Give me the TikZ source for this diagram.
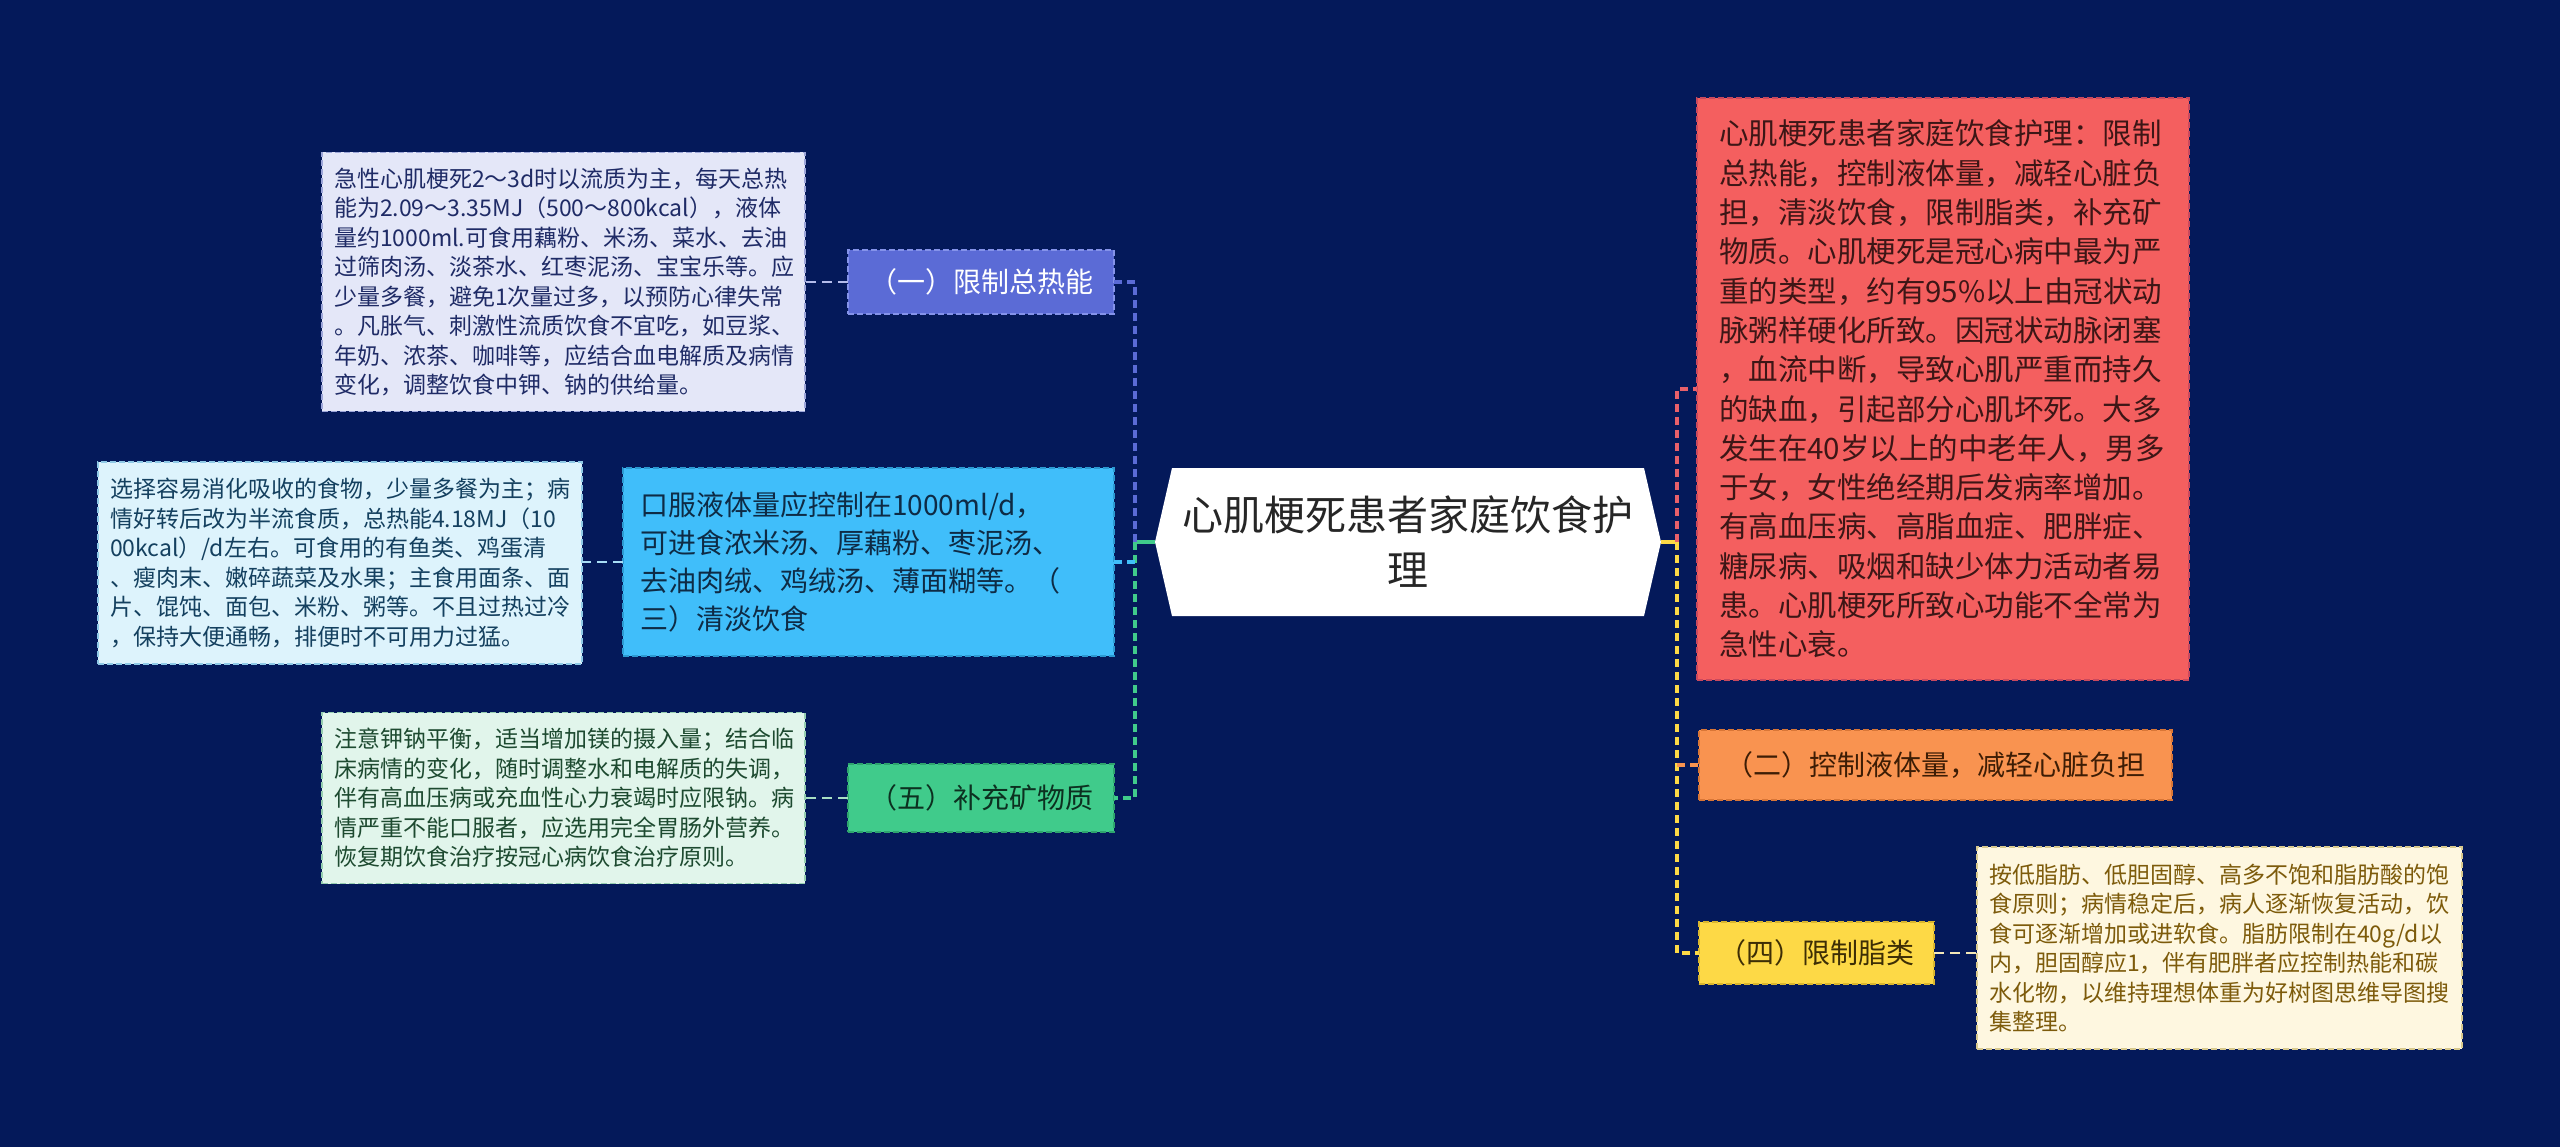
\documentclass[tikz,border=0pt]{standalone}
\usepackage{fontspec}
\setmainfont{Noto Sans CJK SC}
\usetikzlibrary{calc}
\definecolor{bg}{HTML}{04195A}
\definecolor{cOneFill}{HTML}{5B6BD6}
\definecolor{cOneBorder}{HTML}{8593EA}
\definecolor{tOneFill}{HTML}{E4E7F8}
\definecolor{tOneBorder}{HTML}{9DA6D9}
\definecolor{tOneText}{HTML}{1F2B66}
\definecolor{tOneLink}{HTML}{B4BCEB}
\definecolor{cThreeFill}{HTML}{40BEFA}
\definecolor{cThreeBorder}{HTML}{2C9AD2}
\definecolor{cThreeText}{HTML}{0E2B45}
\definecolor{tTwoFill}{HTML}{DDF3FC}
\definecolor{tTwoBorder}{HTML}{8FC9E6}
\definecolor{tTwoText}{HTML}{14405F}
\definecolor{tTwoLink}{HTML}{A8DDF5}
\definecolor{cFiveFill}{HTML}{40CB8B}
\definecolor{cFiveBorder}{HTML}{2EA56E}
\definecolor{cFiveText}{HTML}{0C3020}
\definecolor{tThreeFill}{HTML}{E1F5EB}
\definecolor{tThreeBorder}{HTML}{95CDB0}
\definecolor{tThreeText}{HTML}{1D4A30}
\definecolor{tThreeLink}{HTML}{A9DFC3}
\definecolor{redFill}{HTML}{F45F5F}
\definecolor{redBorder}{HTML}{C9495E}
\definecolor{redText}{HTML}{3D1616}
\definecolor{redLink}{HTML}{E8606A}
\definecolor{cTwoFill}{HTML}{F99350}
\definecolor{cTwoBorder}{HTML}{D97636}
\definecolor{cTwoText}{HTML}{3D1D05}
\definecolor{cFourFill}{HTML}{FDD946}
\definecolor{cFourBorder}{HTML}{D9B52E}
\definecolor{cFourText}{HTML}{3D2E05}
\definecolor{tFourFill}{HTML}{FEF7E0}
\definecolor{tFourBorder}{HTML}{D8C98E}
\definecolor{tFourText}{HTML}{7D5B0B}
\definecolor{tFourLink}{HTML}{F3E7B8}
\tikzset{
  mbox/.style={rectangle, draw, line width=1.5pt, dash pattern=on 6pt off 3pt,
    inner ysep=0pt, outer sep=0pt, align=left},
  smallbox/.style={mbox, font=\fontsize{23}{29.5}\selectfont, inner xsep=12pt},
  midbox/.style={mbox, font=\fontsize{28}{38}\selectfont, inner xsep=0pt, align=center},
  rootn/.style={rectangle, inner sep=0pt, outer sep=0pt, align=center,
    font=\fontsize{41}{55}\selectfont, text=black!85,
    path picture={\fill[white] (path picture bounding box.west)
      -- ([xshift=17pt]path picture bounding box.north west)
      -- ([xshift=-17pt]path picture bounding box.north east)
      -- (path picture bounding box.east)
      -- ([xshift=-17pt]path picture bounding box.south east)
      -- ([xshift=17pt]path picture bounding box.south west) -- cycle;}},
  solidlink/.style={line width=3.5pt},
  dashlink/.style={line width=3.5pt, dash pattern=on 8pt off 5pt},
  leaflink/.style={line width=2.5pt, dash pattern=on 10pt off 6pt},
}
\begin{document}
\begin{tikzpicture}[x=1pt,y=-1pt]
\useasboundingbox (0,0) rectangle (2560,1147);
\fill[bg] (0,0) rectangle (2560,1147);

% root
\node[rootn, minimum width=506pt, minimum height=148pt] (root) at (1408,542)
  {心肌梗死患者家庭饮食护\\理};

% junctions
\coordinate (jL) at (1135,542);
\coordinate (jR) at (1677,542);

% left level-1
\node[midbox, fill=cOneFill, draw=cOneBorder, text=white,
  minimum width=266pt, minimum height=64pt] (n1) at (981,282) {（一）限制总热能};
\node[mbox, font=\fontsize{28}{38}\selectfont, inner xsep=17pt, text width=457pt,
  fill=cThreeFill, draw=cThreeBorder, text=cThreeText,
  minimum width=491pt, minimum height=188pt] (n3) at (868.5,562)
  {口服液体量应控制在1000ml/d，\\可进食浓米汤、厚藕粉、枣泥汤、\\去油肉绒、鸡绒汤、薄面糊等。（\\三）清淡饮食};
\node[midbox, fill=cFiveFill, draw=cFiveBorder, text=cFiveText,
  minimum width=266pt, minimum height=68pt] (n5) at (981,798) {（五）补充矿物质};

% left leaves
\node[smallbox, text width=459pt, fill=tOneFill, draw=tOneBorder, text=tOneText,
  minimum width=483pt, minimum height=259pt] (t1) at (563.5,282)
  {急性心肌梗死2～3d时以流质为主，每天总热\\能为2.09～3.35MJ（500～800kcal），液体\\量约1000ml.可食用藕粉、米汤、菜水、去油\\过筛肉汤、淡茶水、红枣泥汤、宝宝乐等。应\\少量多餐，避免1次量过多，以预防心律失常\\。凡胀气、刺激性流质饮食不宜吃，如豆浆、\\年奶、浓茶、咖啡等，应结合血电解质及病情\\变化，调整饮食中钾、钠的供给量。};
\node[smallbox, text width=460pt, fill=tTwoFill, draw=tTwoBorder, text=tTwoText,
  minimum width=484pt, minimum height=202pt] (t2) at (340,563)
  {选择容易消化吸收的食物，少量多餐为主；病\\情好转后改为半流食质，总热能4.18MJ（10\\00kcal）/d左右。可食用的有鱼类、鸡蛋清\\、瘦肉末、嫩碎蔬菜及水果；主食用面条、面\\片、馄饨、面包、米粉、粥等。不且过热过冷\\，保持大便通畅，排便时不可用力过猛。};
\node[smallbox, text width=459pt, fill=tThreeFill, draw=tThreeBorder, text=tThreeText,
  minimum width=483pt, minimum height=171pt] (t3) at (563.5,798)
  {注意钾钠平衡，适当增加镁的摄入量；结合临\\床病情的变化，随时调整水和电解质的失调，\\伴有高血压病或充血性心力衰竭时应限钠。病\\情严重不能口服者，应选用完全胃肠外营养。\\恢复期饮食治疗按冠心病饮食治疗原则。};

% right level-1
\node[mbox, font=\fontsize{29.5}{39.3}\selectfont, inner xsep=22pt, text width=448pt,
  fill=redFill, draw=redBorder, text=redText,
  minimum width=492pt, minimum height=582pt] (r0) at (1943,389)
  {心肌梗死患者家庭饮食护理：限制\\总热能，控制液体量，减轻心脏负\\担，清淡饮食，限制脂类，补充矿\\物质。心肌梗死是冠心病中最为严\\重的类型，约有95\%以上由冠状动\\脉粥样硬化所致。因冠状动脉闭塞\\，血流中断，导致心肌严重而持久\\的缺血，引起部分心肌坏死。大多\\发生在40岁以上的中老年人，男多\\于女，女性绝经期后发病率增加。\\有高血压病、高脂血症、肥胖症、\\糖尿病、吸烟和缺少体力活动者易\\患。心肌梗死所致心功能不全常为\\急性心衰。};
\node[midbox, fill=cTwoFill, draw=cTwoBorder, text=cTwoText,
  minimum width=473pt, minimum height=70pt] (n2) at (1935.5,765) {（二）控制液体量，减轻心脏负担};
\node[midbox, fill=cFourFill, draw=cFourBorder, text=cFourText,
  minimum width=235pt, minimum height=62pt] (n4) at (1816.5,953) {（四）限制脂类};

% right leaf
\node[smallbox, text width=461pt, fill=tFourFill, draw=tFourBorder, text=tFourText,
  minimum width=485pt, minimum height=202pt] (t4) at (2219.5,948)
  {按低脂肪、低胆固醇、高多不饱和脂肪酸的饱\\食原则；病情稳定后，病人逐渐恢复活动，饮\\食可逐渐增加或进软食。脂肪限制在40g/d以\\内，胆固醇应1，伴有肥胖者应控制热能和碳\\水化物，以维持理想体重为好树图思维导图搜\\集整理。};

% connectors left
\draw[solidlink, cFiveFill] (root.west) -- (jL);
\draw[dashlink, cOneFill] (n1.east) -- (n1.east -| jL) -- (jL);
\draw[dashlink, cFiveFill] (jL) -- (n5.east -| jL) -- (n5.east);
\draw[dashlink, cThreeFill] (n3.east) -- (n3.east -| jL);

% connectors right
\draw[solidlink, cFourFill] (root.east) -- (jR);
\draw[dashlink, redLink] (jR) -- (jR |- r0.west) -- (r0.west);
\draw[dashlink, cFourFill] (jR) -- (jR |- n4.west) -- (n4.west);
\draw[dashlink, cTwoFill] (jR |- n2.west) -- (n2.west);

% leaf connectors
\draw[leaflink, tOneLink] (n1.west) -- (n1.west -| t1.east);
\draw[leaflink, tTwoLink] (n3.west) -- (n3.west -| t2.east);
\draw[leaflink, tThreeLink] (n5.west) -- (n5.west -| t3.east);
\draw[leaflink, tFourLink] (n4.east) -- (n4.east -| t4.west);
\end{tikzpicture}
\end{document}
